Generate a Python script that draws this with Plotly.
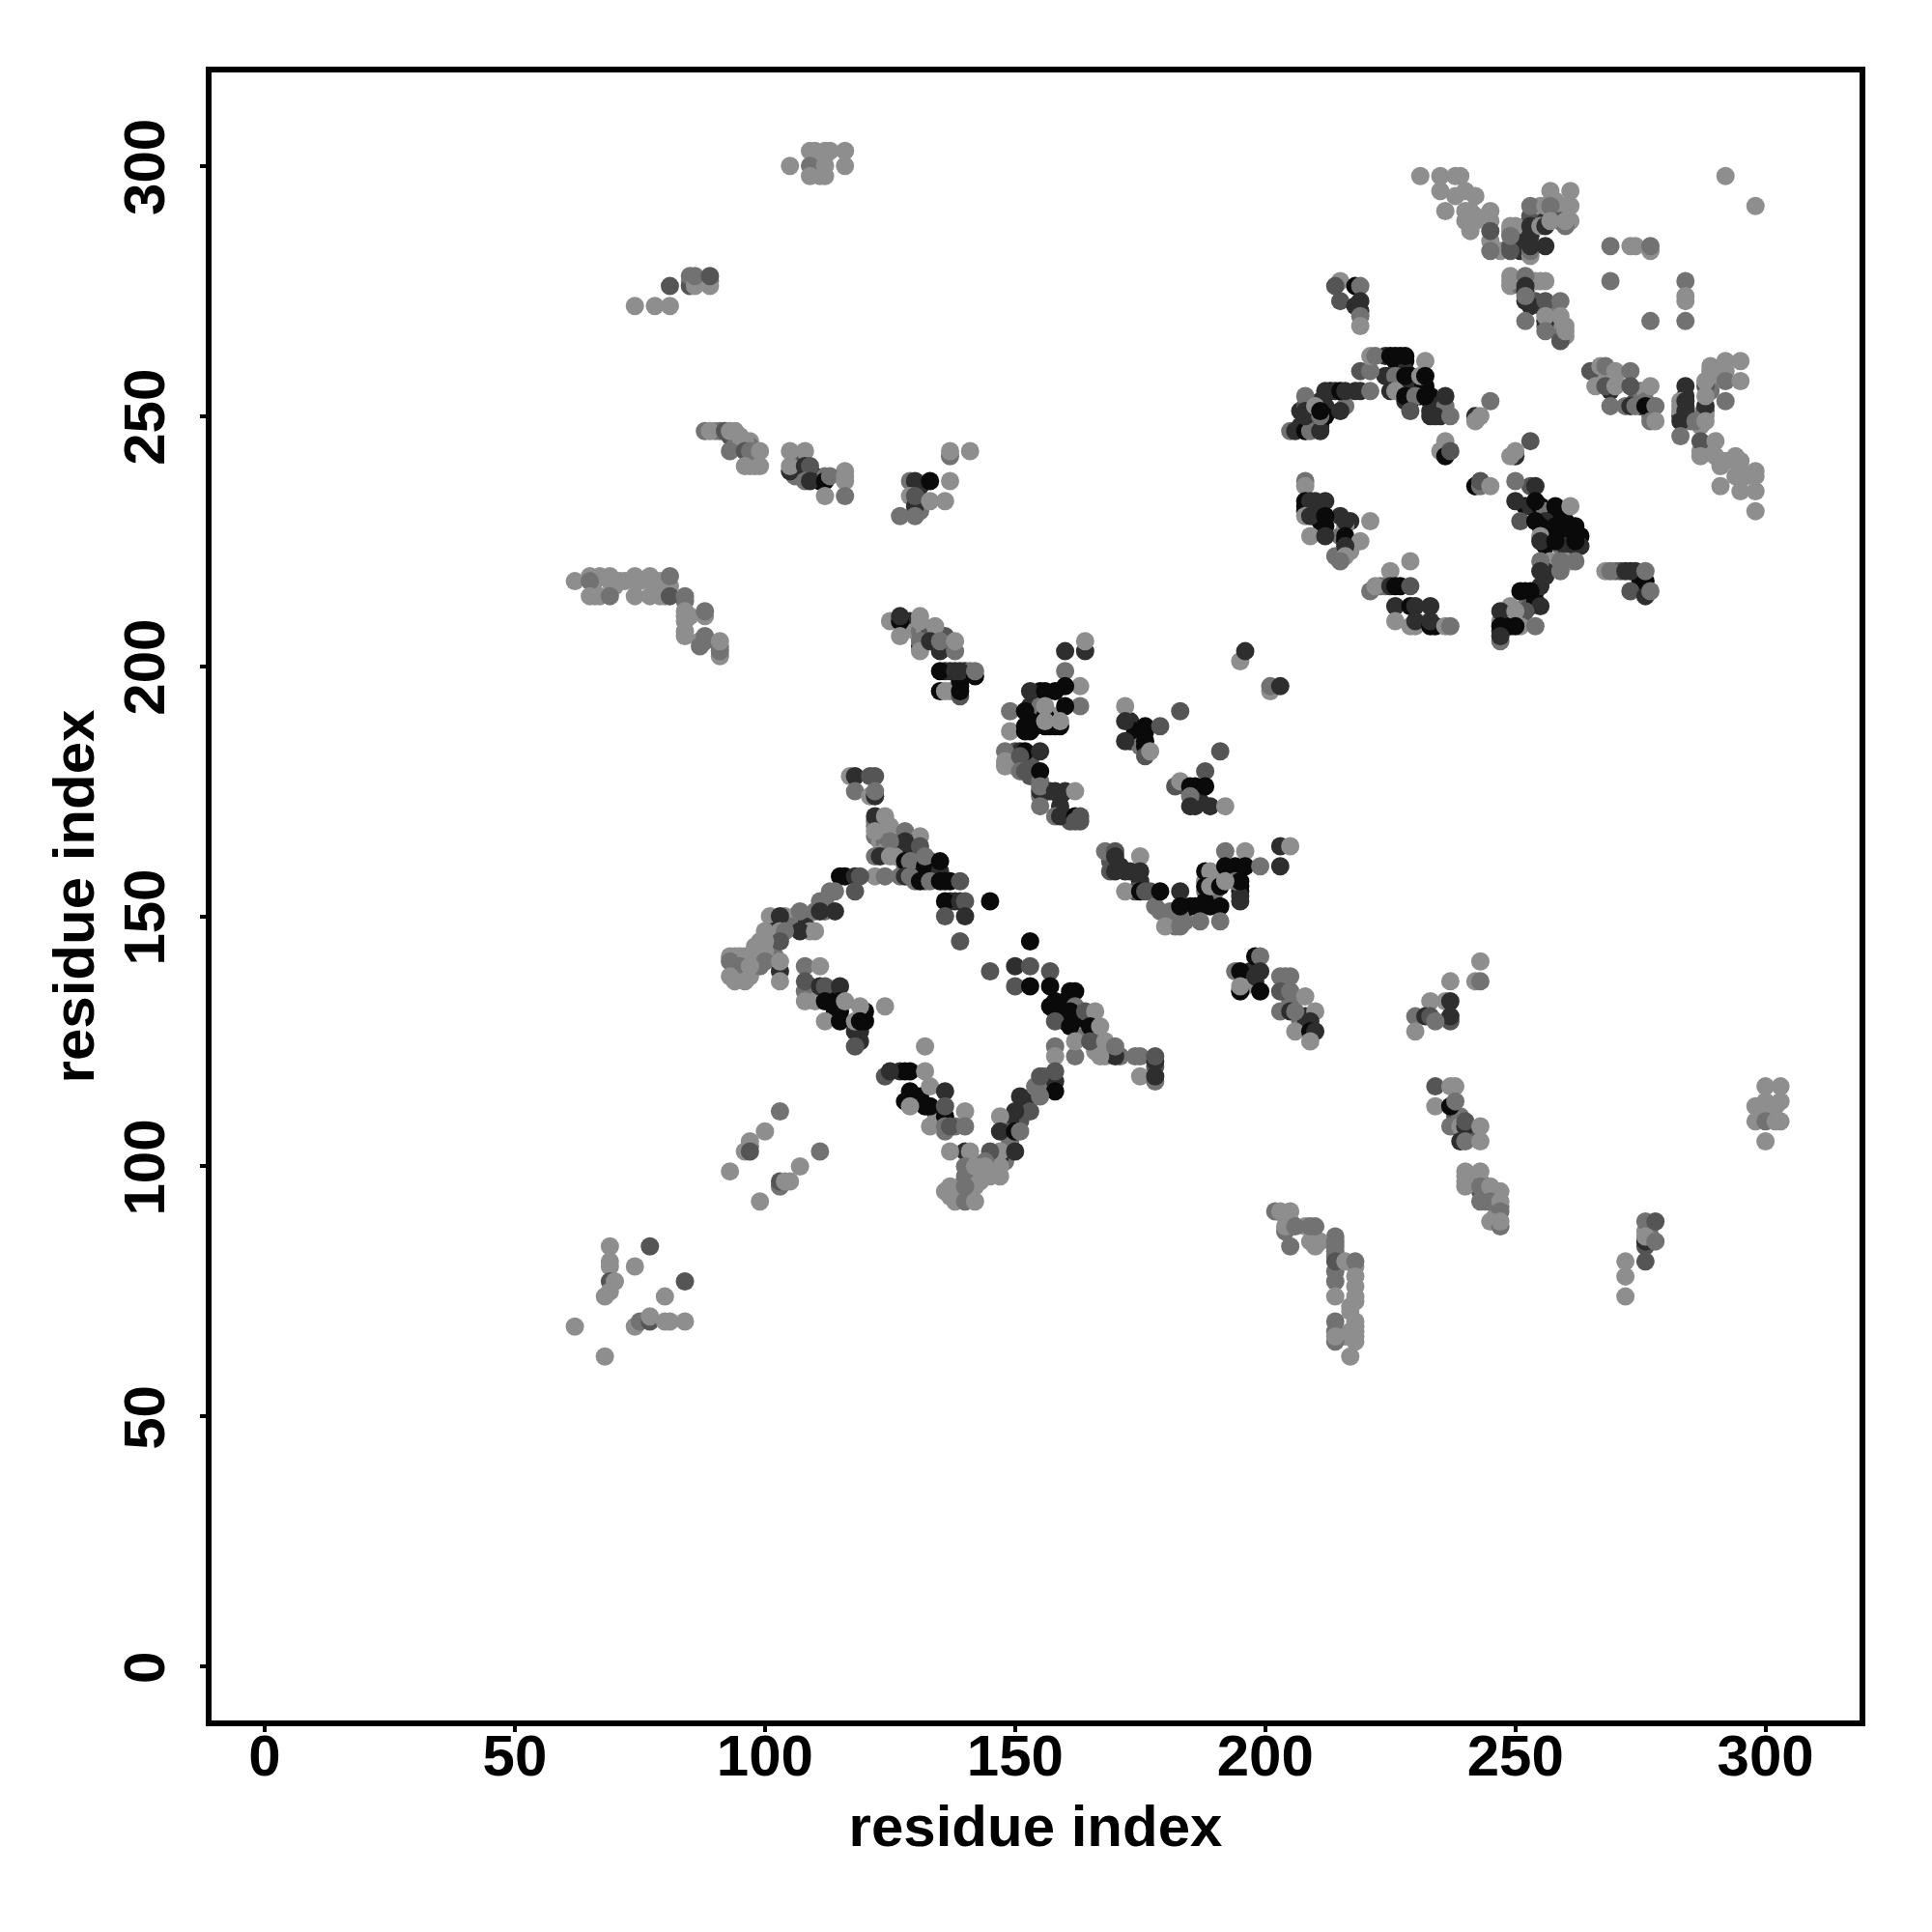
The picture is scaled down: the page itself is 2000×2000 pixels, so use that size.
import plotly.graph_objects as go

# contact strength level: 0 = strongest (black) ... 4 = weakest (light grey)
SHADES = ["#0a0a0a", "#2e2e2e", "#555555", "#727272", "#8e8e8e"]
TICKS = [0, 50, 100, 150, 200, 250, 300]
AXIS_LABEL = "residue index"

# partly hidden contacts inside the dense blobs (drawn underneath)
stacked_upper = [
 (240,289,4),(242,289,4),(242,290,4),(240,291,4),(245,289,4),(245,285,4),(247,283,4),(249,284,2),(251,283,1),(253,282,4),
 (249,287,4),(251,287,2),(251,285,1),(252,288,4),(253,290,2),(250,288,4),(255,292,4),(258,293,4),(258,291,4),(259,292,4),
 (256,289,1),(261,289,4),(259,289,2),(249,276,4),(251,276,3),(252,275,1),(253,277,4),(254,277,4),(255,277,4),(254,273,2),
 (255,272,2),(253,272,1),(257,270,2),(258,268,4),(258,269,4),(259,268,4),(259,267,4),(260,266,4),(258,271,3),(259,266,3),(256,268,3),
 (207,251,1),(208,252,2),(209,252,3),(210,250,3),(211,253,1),(213,255,0),(214,255,1),(211,248,1),(207,248,1),(209,251,0),
 (210,251,4),(212,252,1),(212,250,0),(216,252,3),(218,255,1),(224,262,1),(226,262,0),(227,262,0),(226,261,0),(228,261,0),
 (228,259,1),(224,258,1),(227,258,1),(229,258,0),(230,256,0),(232,256,0),(229,256,0),(228,256,1),(229,253,0),(231,254,0),
 (233,254,0),(233,253,0),(234,252,1),(233,251,1),(235,250,1),(236,252,3),(236,251,3),
 (252,232,0),(253,232,1),(253,236,2),(255,232,0),(256,231,3),(258,230,0),(259,230,0),(260,229,0),(259,228,0),(261,227,0),
 (256,229,1),(255,228,0),(258,226,0),(256,224,0),(259,224,3),(260,226,0),(260,224,1),(263,226,0),(263,224,1),(260,221,3),
 (261,221,4),(257,221,4),(256,219,1),(256,218,1),(254,215,0),(252,215,0),(252,212,3),(249,212,4),(253,212,2),(254,213,0),
 (247,209,4),(247,207,1),(249,208,0),(251,209,4),(248,208,0),
 (208,231,1),(208,232,0),(210,233,1),(210,231,1),(211,229,0),(212,228,0),(215,230,1),(217,229,1),(215,226,3),(216,228,4),
 (216,225,0),(216,223,4),(217,223,4),(214,222,3),(223,216,3),(224,216,3),(227,216,0),
 (234,208,0),(229,208,4),(270,219,3),(271,219,2),(274,219,1),(275,217,0),
 (266,259,3),(267,258,4),(269,258,4),(270,257,4),(269,255,1),(274,253,2),(275,252,1),(272,252,3),(275,255,3),(276,255,4),
 (276,253,3),(277,251,4),(277,250,3),(284,254,1),(284,252,1),(285,250,1),(285,249,3),(286,250,4),(287,250,4),(288,251,2),
 (288,250,4),(289,257,4),(289,259,4),(289,255,3),(283,250,1),(283,251,4),(283,252,4),(287,248,4),(287,243,4),(288,243,4),
 (289,243,4),(292,241,4),(294,241,4),(295,239,4),(296,238,4),
]

stacked_centre = [
 (153,192,1),(154,191,0),(155,195,0),(155,192,3),(154,188,0),(157,188,0),(158,188,0),(158,190,4),
 (153,187,0),(150,183,2),(150,181,3),(149,182,4),(151,183,1),(150,180,3),(153,181,2),(153,178,2),
 (155,177,3),(155,174,3),(157,175,1),(159,174,1),(160,175,1),(159,171,1),(160,170,2),(161,169,2),(163,169,2),
 (173,189,1),(173,185,1),(174,187,0),(175,186,0),(175,184,3),(176,187,0),(176,184,0),(184,176,2),(186,176,0),(186,175,3),
 (186,172,1),(187,173,1),(169,161,2),(169,159,2),(171,160,1),(173,159,1),(175,157,1),(174,155,2),(177,155,2),(178,152,3),
 (181,151,3),(182,150,3),(184,149,3),(182,148,3),(185,152,0),(186,152,0),(189,153,0),(189,152,0),(190,155,3),(194,160,0),
 (193,159,0),(195,155,0),(195,156,0),(191,158,0),(188,155,3),(188,157,4),(190,157,4),(188,153,0),(195,154,1),(194,157,3),
 (196,137,3),(197,139,1),(198,137,1),(196,136,4),(204,135,2),(204,138,3),(205,133,3),(207,129,3),(208,128,1),(208,130,1),
 (122,169,3),(122,168,3),(122,166,3),(123,165,4),(124,167,4),(126,164,2),(127,165,3),(128,164,1),(128,163,1),(124,165,3),
 (126,162,4),(124,163,4),(129,160,0),(128,160,3),(130,161,3),(130,159,3),(131,160,0),(133,161,0),(134,160,1),(134,158,0),
 (135,158,1),(132,157,3),(130,157,3),(127,158,3),(137,157,0),(137,153,1),(138,153,1),
 (116,158,0),(113,155,3),(112,153,3),(110,151,3),(108,149,3),(106,150,4),(108,148,1),(109,147,4),(112,151,3),(104,150,4),
 (105,148,3),(102,145,4),(101,146,4),(99,145,4),(99,143,4),(98,141,3),(94,142,4),(96,142,4),(98,142,4),(94,140,3),(96,139,4),
 (97,138,4),(94,139,4),(95,138,4),(99,140,3),(101,143,3),(102,142,3),(100,143,4),
 (109,136,2),(108,135,3),(110,133,4),(113,135,1),(113,133,0),(114,132,0),(114,131,0),(115,131,0),(118,127,1),(119,127,1),
 (120,129,0),(120,131,0),(127,119,1),(128,119,0),(128,113,0),(130,113,0),(131,114,0),(132,112,0),(134,111,0),(135,110,1),
 (134,109,4),(136,107,3),(138,108,3),(158,133,0),(158,131,3),(160,133,0),(162,135,0),(160,129,0),(163,130,0),(159,130,0),
 (164,129,0),(166,127,2),(163,126,4),(164,126,3),(166,124,2),(166,123,4),(167,124,4),(168,122,4),(169,123,4),(171,122,3),
 (175,122,3),(178,120,2),(178,121,1),(156,116,3),(156,118,3),(158,117,1),(154,116,3),(152,113,1),(152,111,1),(151,109,2),
 (149,109,1),(148,107,2),(149,105,3),(148,103,3),(146,101,4),(147,98,4),(146,99,4),(143,99,4),(141,98,3),(141,95,4),(141,97,4),
 (142,98,4),(139,96,4),(138,95,4),(136,95,4),(140,98,3),(141,101,3),(148,101,3),(144,98,4),(143,97,4),
]

stacked_outer = [
 (238,110,2),(238,108,1),(241,106,3),(241,107,2),(239,110,3),(246,93,4),(247,92,3),(246,90,4),(244,93,3),(243,95,2),(241,97,4),
 (243,97,3),(240,97,4),(240,98,4),(214,79,3),(218,76,4),(218,80,4),(218,73,4),(217,72,4),(218,68,4),(218,67,4),(217,67,4),
 (216,66,4),(214,67,3),(215,66,4),(214,83,3),(214,86,3),(208,88,4),(209,85,4),(209,88,3),(211,85,4),(205,89,3),(204,90,4),
 (214,82,3),(299,110,4),(301,112,4),(302,112,4),(299,112,4),(301,110,4),(276,87,4),(277,85,3),(277,88,3),(277,86,3),(276,84,2),
 (110,300,4),(110,303,4),(111,301,4),(112,302,4),(111,300,4),(111,298,4),(85,277,4),(86,277,3),(89,277,3),(94,247,4),(90,247,4),
 (91,247,3),(93,246,2),(94,245,2),(94,244,3),(95,244,4),(97,245,4),(97,244,3),(98,243,3),(97,240,4),(98,240,4),(106,242,4),
 (107,241,2),(106,238,3),(107,238,3),(108,239,1),(110,238,0),(111,237,0),(112,238,3),(116,239,4),(130,235,2),(131,236,1),
 (136,233,4),(131,233,2),(131,231,3),(66,217,4),(67,218,4),(70,216,4),(72,217,4),(75,217,4),(78,216,4),(79,217,4),(66,214,4),
 (67,214,4),(79,214,4),(84,213,3),(84,210,4),(85,210,4),(84,209,4),(84,207,4),(88,205,3),(87,205,4),(91,204,3),
 (129,209,1),(129,208,1),(130,207,4),(131,207,3),(132,207,4),(133,207,2),(134,206,3),(136,204,1),(137,204,3),(136,206,2),
 (136,199,1),(137,199,1),(140,199,1),(141,199,3),(137,195,4),(139,197,0),(139,196,0),
]

upper_right = [
 (231,298,4),(235,298,4),(238,298,4),(239,298,4),(235,295,4),(238,294,4),(240,295,4),(242,294,4),(236,291,4),
 (241,291,4),(245,291,4),(241,287,4),(245,287,2),(245,283,3),(249,283,2),(253,283,3),(253,284,1),(256,284,1),
 (249,288,4),(249,286,3),(253,292,3),(253,288,1),(253,286,1),(255,288,4),(256,292,4),(257,295,4),(261,295,4),(257,292,3),
 (261,292,4),(260,288,3),(256,288,1),(257,289,4),(260,289,4),
 (249,278,4),(249,277,4),(252,278,3),(252,276,1),(252,273,1),(252,274,3),(256,277,4),(256,273,2),(259,273,3),
 (252,269,3),(256,269,1),(256,270,4),(256,267,3),(259,270,4),(259,265,2),(260,268,4),(260,267,4),
 (292,298,4),(298,292,4),(269,284,3),(273,284,4),(274,284,4),(277,283,4),(277,284,3),(269,277,3),(284,277,3),
 (284,274,4),(284,273,4),(277,269,3),(284,269,3),
 (265,259,2),(267,260,4),(268,260,3),(270,259,4),(273,259,3),(266,256,4),(268,256,2),(270,256,4),(273,256,2),
 (277,256,4),(269,252,3),(273,252,1),(274,252,3),(276,252,0),(278,252,3),(277,249,3),(278,249,4),
 (289,260,4),(292,261,4),(295,261,4),(292,259,4),(292,257,3),(295,257,4),(288,256,2),(288,257,4),(284,256,1),
 (283,253,4),(284,253,1),(288,252,1),(288,254,4),(292,253,3),(284,251,1),(283,249,1),(286,249,3),(288,249,4),
 (283,246,3),(287,245,2),(290,245,4),(287,242,4),(290,242,4),(294,242,4),(291,240,4),(295,241,4),(298,239,4),
 (294,238,4),(298,238,4),(291,236,4),(295,235,4),(298,235,4),(298,231,4),
]

upper_arc = [
 (215,277,4),(214,276,2),(218,276,0),(219,276,3),(215,273,2),(218,272,1),(219,273,1),(219,271,1),(219,270,3),(219,268,4),
 (205,247,3),(206,247,1),(208,247,0),(209,247,3),(211,247,1),(208,254,3),(208,251,1),(208,250,1),(210,252,4),(211,250,3),
 (211,251,0),(215,251,1),(212,255,1),(215,255,0),(216,255,1),(219,255,1),(221,255,3),(219,259,2),(221,259,3),(221,262,4),
 (222,262,3),(225,262,0),(228,262,0),(232,261,4),(225,258,1),(226,258,3),(228,258,0),(231,258,4),(232,258,0),(225,255,1),
 (226,255,4),(228,253,1),(228,254,0),(230,254,3),(232,254,0),(236,254,1),(233,250,1),(234,250,1),(229,251,2),(237,250,3),
 (245,253,3),(242,250,1),(243,250,4),(242,249,4),(236,245,4),(235,243,4),(236,242,0),(237,243,2),(253,245,2),(250,242,1),
 (250,243,4),(249,242,4),(242,236,0),(243,236,3),(243,237,2),(245,236,4),
 (250,237,3),(250,233,1),(254,236,1),(254,233,0),(258,232,0),(261,232,4),(251,229,2),(254,229,0),(258,228,0),(262,228,0),
 (255,226,4),(255,225,1),(258,225,0),(262,224,1),(262,225,0),(262,221,3),(259,221,3),(255,221,3),(259,219,3),(255,219,1),
 (255,216,1),(251,215,0),(253,215,0),(255,212,1),(252,211,2),(247,211,1),(250,211,4),(251,208,4),(247,208,0),(250,208,0),
 (254,208,3),(247,205,3),(247,206,1),
 (208,237,3),(208,236,4),(208,233,0),(209,233,1),(212,233,1),(208,230,4),(209,230,1),(212,230,0),(216,229,1),(221,229,4),
 (209,226,4),(212,226,1),(216,226,0),(219,225,4),(216,224,1),(216,222,4),(215,221,3),
 (229,221,4),(225,219,4),(221,215,3),(222,216,4),(225,216,1),(226,216,0),(229,216,2),(226,212,1),(229,212,0),(230,212,1),
 (233,212,1),(226,209,4),(230,208,4),(230,209,1),(233,208,0),(233,209,1),(236,208,4),(237,208,3),
 (268,219,4),(269,219,3),(272,219,1),(273,219,1),(276,217,0),(276,219,3),(273,215,2),(276,214,1),(277,215,3),
]

upper_left = [
 (105,300,4),(109,303,4),(109,300,3),(109,298,4),(112,303,4),(113,303,4),(112,298,4),(112,300,4),(116,303,4),(116,300,4),
 (81,276,2),(74,272,4),(78,272,4),(81,272,4),(85,276,2),(85,278,3),(86,276,4),(86,278,3),(89,276,4),(89,278,2),
 (88,247,3),(89,247,4),(92,247,2),(93,247,4),(93,243,3),(95,246,4),(96,245,4),(96,243,2),(97,243,3),(99,243,4),(96,240,4),(99,240,4),
 (105,239,1),(105,243,4),(108,243,4),(105,240,4),(108,240,1),(109,240,2),(108,237,3),(109,237,1),(112,237,0),(113,238,3),
 (116,238,4),(116,237,4),(112,234,4),(116,234,3),
 (137,242,3),(137,243,4),(141,243,4),(129,237,3),(130,237,1),(133,237,0),(137,237,4),(129,234,4),(130,232,1),(130,234,2),
 (133,233,4),(127,230,3),(130,230,3),
 (62,217,4),(65,218,4),(65,217,3),(69,218,4),(69,217,4),(71,217,4),(74,218,4),(74,217,4),(77,218,4),(77,217,4),(81,216,4),(81,218,3),
 (65,214,4),(69,214,3),(74,214,4),(77,214,4),(80,214,4),(81,214,2),(84,214,3),(84,211,4),(88,210,4),(88,211,3),(84,206,4),
 (88,206,3),(87,204,3),(91,202,4),(91,203,3),(91,205,4),
]

centre_top = [
 (125,209,4),(127,209,0),(127,210,1),(127,206,4),(131,210,4),(131,209,4),(131,204,1),(131,205,3),(131,203,4),(134,208,4),
 (133,205,1),(135,203,1),(135,205,3),(138,203,3),(138,205,4),(135,199,0),(138,199,1),(139,199,1),(142,198,0),(142,199,3),
 (135,195,0),(136,195,4),(139,194,2),(139,195,0),
 (160,203,1),(164,203,1),(164,205,4),(160,199,3),(163,196,4),(160,196,0),(153,195,1),(156,195,0),(158,195,0),(163,192,3),
 (160,192,0),(149,191,3),(152,191,0),(156,190,0),(156,192,4),(149,187,4),(152,188,0),(152,187,0),(156,188,0),(159,188,0),
 (159,189,4),(156,189,4),(148,183,3),(148,181,4),(148,180,4),(152,183,0),(155,183,1),(151,182,2),(151,179,3),(152,179,2),
 (155,179,0),(155,175,1),(155,176,3),(158,175,1),(162,175,4),(155,172,3),(159,172,1),(158,170,3),(159,170,1),(162,170,0),(162,169,2),(163,170,2),
 (172,192,4),(172,189,1),(176,188,0),(179,188,2),(172,185,1),(176,185,0),(176,182,2),(177,183,4),(183,191,2),(191,183,2),
 (188,179,2),(182,176,2),(183,177,4),(185,176,0),(188,176,0),(185,174,3),(185,172,1),(189,172,1),(192,172,4),
 (168,163,3),(170,163,2),(170,162,1),(175,162,4),(170,159,1),(172,159,1),(175,159,1),(172,155,4),(175,155,0),(176,155,2),
 (179,155,0),(183,155,1),(179,151,3),(183,150,3),(183,152,0),(187,152,0),(191,152,0),(180,148,4),(183,148,3),(187,149,3),(191,149,3),
 (192,163,3),(196,163,4),(188,159,0),(189,159,4),(192,160,0),(196,160,0),(199,160,3),(203,164,1),(205,164,4),(203,160,1),
 (188,156,0),(189,156,4),(191,156,0),(195,157,0),(192,157,4),(195,153,1),
 (195,201,4),(196,203,1),(201,195,4),(201,196,3),(203,196,1),
]

lower_right = [
 (198,142,0),(199,142,3),(194,139,3),(195,139,0),(199,139,1),(198,138,1),(195,135,0),(195,136,4),(199,135,0),
 (203,138,3),(205,138,3),(203,135,2),(205,135,3),(208,134,4),(203,131,3),(205,131,1),(206,131,3),(210,131,4),(206,127,4),
 (209,129,1),(209,127,0),(210,127,1),(209,125,4),
 (243,141,4),(237,137,4),(242,137,4),(243,137,3),(233,133,4),(236,133,4),(237,133,1),(230,130,3),(232,130,1),(233,130,2),
 (237,129,2),(237,130,1),(230,127,4),(234,129,3),
 (234,116,2),(237,116,4),(238,116,4),(234,112,4),(237,112,0),(238,113,3),(237,108,3),(239,108,4),(240,108,1),(240,109,2),
 (243,108,4),(239,105,1),(240,105,3),(243,105,4),
 (240,99,4),(243,99,4),(240,96,4),(243,96,3),(243,93,3),(245,96,4),(247,95,4),(245,93,3),(247,93,4),(247,91,3),(245,89,4),
 (247,88,3),(247,89,4),
 (202,91,3),(203,91,4),(205,91,4),(204,87,3),(204,88,4),(206,88,3),(205,84,3),(210,88,3),(210,84,4),(214,85,3),(214,84,3),
 (214,81,2),(216,81,4),(218,81,3),(218,78,4),(214,77,3),(218,74,4),(214,74,4),(217,71,4),(214,69,3),(218,69,4),(214,65,3),
 (214,66,4),(218,66,4),(218,65,4),(217,62,4),
 (276,89,3),(278,89,2),(276,85,1),(276,86,4),(278,85,3),(276,81,2),(272,81,4),(272,78,4),(272,74,4),
 (300,116,4),(303,116,4),(298,112,4),(300,113,4),(303,113,4),(298,109,4),(300,109,3),(302,109,4),(303,109,4),(300,105,4),
]

centre_bottom = [
 (117,178,4),(118,178,1),(121,178,2),(122,178,2),(118,175,3),(121,174,4),(122,174,1),(122,175,3),
 (122,170,1),(124,170,4),(122,167,4),(125,168,4),(128,167,3),(131,166,4),(128,165,1),(125,165,3),(131,164,2),(122,162,3),
 (123,162,1),(125,162,4),(128,161,0),(129,161,3),(132,160,0),(132,162,3),(135,159,1),(135,161,0),
 (122,158,4),(124,158,3),(128,158,1),(129,158,3),(131,157,0),(133,157,3),(135,157,0),(136,157,0),(139,157,2),
 (136,153,0),(139,153,1),(140,153,2),(145,153,0),(136,150,2),(140,150,1),(139,145,2),(153,145,0),
 (115,158,0),(118,158,1),(119,158,2),(114,155,3),(118,155,2),(111,153,3),(111,151,1),(114,151,1),(107,151,3),(101,150,4),
 (103,150,1),(107,147,1),(110,147,4),(102,147,1),(103,147,4),(104,147,3),(103,145,2),(100,147,4),(100,145,4),(98,144,4),
 (93,142,4),(95,142,4),(97,142,4),(100,141,3),(103,139,1),(103,141,4),(93,141,3),(95,140,3),(97,140,4),(93,138,4),(94,137,4),
 (96,137,4),(103,137,4),
 (108,140,3),(111,140,4),(108,137,2),(108,133,4),(111,136,1),(112,136,2),(115,136,1),(112,133,0),(115,133,0),(116,133,4),
 (119,132,4),(124,132,4),(112,129,4),(115,129,0),(118,129,4),(119,129,0),(119,125,1),(118,124,2),
 (124,118,2),(125,119,1),(129,119,0),(132,119,4),(132,124,4),(129,115,0),(133,116,4),(136,115,1),(133,112,0),(129,112,4),
 (136,110,0),(136,112,2),(140,111,4),(133,108,4),(136,108,3),(137,108,2),(140,108,3),
 (145,139,2),(150,140,1),(150,136,2),(153,136,0),(153,140,2),(157,139,2),(157,136,0),(161,135,0),(157,132,0),(162,132,3),
 (161,131,0),(158,129,2),(164,131,2),(166,131,4),(161,128,0),(165,128,0),(167,128,4),(158,124,3),(158,122,4),(162,122,3),
 (162,125,4),(165,125,2),(168,125,4),(170,122,1),(170,124,3),(167,122,4),(174,122,3),(178,122,2),(175,118,4),(178,117,3),(178,118,1),
 (158,119,2),(155,118,2),(158,115,0),(155,114,3),(151,114,1),(153,111,2),(150,111,1),(147,110,4),(147,107,1),(150,107,0),
 (151,107,3),(147,102,1),(147,103,4),(150,103,1),(147,100,4),(145,103,2),(144,101,3),(144,100,4),(140,103,1),(141,103,4),
 (137,103,4),(140,100,3),(142,100,4),(142,96,4),(137,96,4),(137,94,4),(138,93,4),(140,96,3),(140,93,3),(142,93,4),(145,98,4),
 (103,111,3),(100,107,4),(97,104,3),(97,105,4),(96,103,4),(97,103,2),(93,99,4),
 (111,103,3),(107,100,4),(103,96,3),(103,97,2),(104,97,4),(105,97,4),(99,93,4),
 (69,84,4),(77,84,2),(69,81,4),(69,80,4),(74,80,4),(84,77,2),(69,77,2),(70,77,4),(69,75,4),(68,74,4),(80,74,4),(62,68,4),
 (74,68,4),(75,69,3),(77,69,2),(77,70,4),(80,69,4),(81,69,4),(84,69,4),(68,62,4),
]

regions = [stacked_upper, stacked_centre, stacked_outer,
           upper_right, upper_arc, upper_left, centre_top, lower_right, centre_bottom]
points = [p for r in regions for p in r]
residue_i = [p[0] for p in points]
residue_j = [p[1] for p in points]
level = [p[2] for p in points]

fig = go.Figure(go.Scatter(
    x=residue_i, y=residue_j, mode="markers",
    marker=dict(size=19, color=[SHADES[k] for k in level], line=dict(width=0)),
    cliponaxis=False,
))

axis = dict(
    tickmode="array", tickvals=TICKS, ticktext=[str(t) for t in TICKS],
    ticks="outside", ticklen=6, tickwidth=4, tickcolor="black",
    showline=True, mirror=True, linecolor="black", linewidth=6,
    showgrid=False, zeroline=False,
    tickfont=dict(family="Liberation Sans", size=60, color="black", weight="bold"),
)
title_font = dict(family="Liberation Sans", size=60, color="black", weight="bold")
fig.update_layout(
    width=1992, height=1992, margin=dict(l=211, r=75, t=67, b=219, pad=0, autoexpand=False),
    paper_bgcolor="white", plot_bgcolor="white", showlegend=False,
    xaxis=dict(axis, range=[-10.62, 318.8], ticklabelstandoff=-27,
               title=dict(text=AXIS_LABEL, font=title_font, standoff=21)),
    yaxis=dict(axis, range=[-10.76, 318.7], tickangle=-90, ticklabelstandoff=13, ticklabelshift=10,
               title=dict(text=AXIS_LABEL, font=title_font, standoff=1)),
)
fig.write_html("out.html", config={"displayModeBar": False})
